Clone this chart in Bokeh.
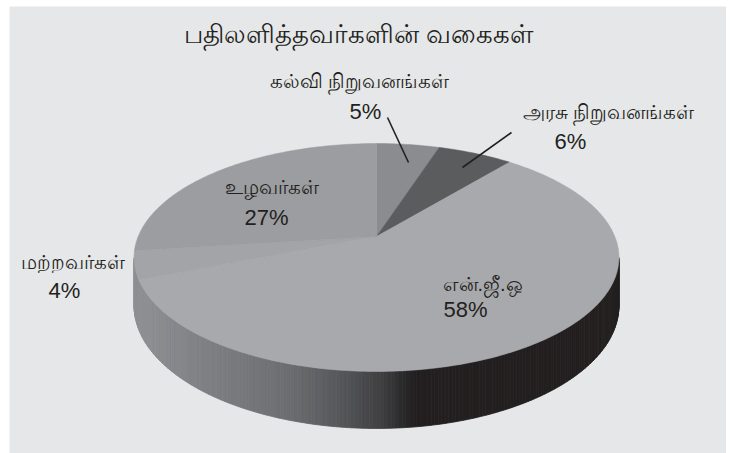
import numpy as np
from bokeh.plotting import figure
from bokeh.models import Range1d
from bokeh.embed import file_html
from bokeh.resources import INLINE
from bokeh.core.properties import value

# ---- data ----
categories = ["கல்வி நிறுவனங்கள்", "அரசு நிறுவனங்கள்", "என்.ஜீ.ஒ", "மற்றவர்கள்", "உழவர்கள்"]
percents = [5, 6, 58, 4, 27]
slice_colors = ["#8b8c8f", "#5b5c5e", "#a8a9ac", "#a3a4a7", "#9c9da0"]
title_text = "பதிலளித்தவர்களின் வகைகள்"

W, H = 726, 453
p = figure(width=W, height=H, output_backend="svg", toolbar_location=None,
           x_range=Range1d(0, W), y_range=Range1d(H, 0),
           min_border=0, outline_line_color=None,
           background_fill_color="#ffffff", border_fill_color="#ffffff")
p.axis.visible = False
p.grid.visible = False

# panel background
p.quad(left=[9], right=[W], top=[6], bottom=[H], fill_color="#e6e7e9", line_color=None)

# ---- 3D projection parameters (screen coords, y down) ----
cx, cy0 = 376.0, 236.0
A, B, k = 238.3, 110.1, 0.1842
D = 46.5

def top_pt(theta):
    u, v = np.sin(theta), np.cos(theta)
    s = 1.0 / (1.0 + k * v)
    return cx + A * u * s, cy0 - B * v * s

def bot_pt(theta):
    x, y = top_pt(theta)
    v = np.cos(theta)
    return x, y + D / (1.0 + k * v)

# ---- side (gradient strips) ----
stops_x = [135, 147, 220, 287, 337, 380, 403, 415, 625]
stops_c = [(0x8f, 0x90, 0x93), (0x8d, 0x8e, 0x91), (0x7c, 0x7d, 0x80), (0x6d, 0x6e, 0x71),
           (0x58, 0x59, 0x5b), (0x40, 0x40, 0x42), (0x2a, 0x2a, 0x2b), (0x23, 0x1f, 0x20),
           (0x23, 0x1f, 0x20)]

def grad(x):
    r = np.interp(x, stops_x, [c[0] for c in stops_c])
    g = np.interp(x, stops_x, [c[1] for c in stops_c])
    b = np.interp(x, stops_x, [c[2] for c in stops_c])
    return "#%02x%02x%02x" % (int(r), int(g), int(b))

t0 = np.arccos(-k)
t1 = 2 * np.pi - t0
n = 220
ths = np.linspace(t0, t1, n + 1)
sx, sy, sc = [], [], []
for i in range(n):
    a0, a1 = ths[i], ths[i + 1]
    x0, y0 = top_pt(a0); x1, y1 = top_pt(a1)
    bx0, by0 = bot_pt(a0); bx1, by1 = bot_pt(a1)
    sx.append([x0, x1, bx1, bx0])
    sy.append([y0, y1, by1, by0])
    sc.append(grad((x0 + x1) / 2))
p.patches(sx, sy, fill_color=sc, line_color=sc, line_width=0.8)

# ---- top face slices ----
total = float(sum(percents))
start = 0.0
xs, ys = [], []
for pct in percents:
    span = 2 * np.pi * pct / total
    th = np.linspace(start, start + span, max(4, int(pct * 4)))
    px, py = top_pt(th)
    xs.append([cx] + list(px))
    ys.append([cy0] + list(py))
    start += span
p.patches(xs, ys, fill_color=slice_colors, line_color=slice_colors, line_width=0.5)

# ---- leader lines ----
p.line([387, 408], [117, 162], line_color="#231f20", line_width=1.6)
p.line([511, 462], [132, 167], line_color="#231f20", line_width=1.6)

# ---- labels ----
fnt = value("Liberation Sans")
lab_x = [359, 608, 442, 72, 271]
lab_y = [80, 111, 283, 261, 186]
lab_align = ["center", "center", "left", "center", "center"]
pct_x = [365, 570, 443, 64, 266]
pct_y = [111, 141, 309, 290, 217]
for i, c in enumerate(categories):
    p.text([lab_x[i]], [lab_y[i]], text=[c], text_align=lab_align[i], text_baseline="middle",
           text_font=fnt, text_font_size="20px", text_color="#231f20")
    p.text([pct_x[i]], [pct_y[i]], text=["%d%%" % percents[i]], text_align=lab_align[i],
           text_baseline="middle", text_font=fnt, text_font_size="22px", text_color="#231f20")

p.text([358], [33], text=[title_text], text_align="center", text_baseline="middle",
       text_font=fnt, text_font_size="26px", text_color="#231f20")

open("out.html", "w").write(file_html(p, INLINE))
